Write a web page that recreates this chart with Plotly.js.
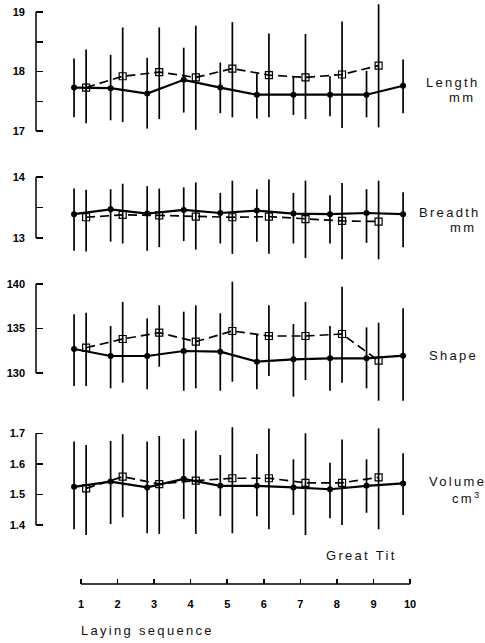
<!DOCTYPE html>
<html><head><meta charset="utf-8">
<script src="https://cdn.plot.ly/plotly-3.0.1.min.js"></script>
<style>html,body{margin:0;padding:0;background:#fff}#chart{width:485px;height:643px}</style>
</head><body><div id="chart"></div>
<script>
const seq = [1,2,3,4,5,6,7,8,9,10];
const seqD = [1,2,3,4,5,6,7,8,9];

const lengthS   = [17.73,17.72,17.63,17.86,17.73,17.61,17.61,17.61,17.61,17.76];
const lengthSHi = [18.22,18.28,18.23,18.40,18.15,17.96,17.92,17.92,18.01,18.20];
const lengthSLo = [17.23,17.18,17.04,17.31,17.30,17.21,17.27,17.25,17.23,17.30];
const lengthD   = [17.73,17.92,17.99,17.90,18.05,17.94,17.90,17.95,18.10];
const lengthDHi = [18.37,18.74,18.74,18.77,18.83,18.64,18.63,18.84,19.13];
const lengthDLo = [17.13,17.15,17.20,17.02,17.23,17.23,17.20,17.05,17.06];

const breadthS   = [13.39,13.47,13.40,13.46,13.41,13.45,13.40,13.39,13.41,13.39];
const breadthSHi = [13.81,13.80,13.85,13.83,13.74,13.80,13.74,13.70,13.80,13.75];
const breadthSLo = [12.79,12.94,12.79,12.95,12.91,12.94,12.91,12.91,12.92,12.85];
const breadthD   = [13.34,13.38,13.37,13.35,13.34,13.35,13.31,13.28,13.27];
const breadthDHi = [13.79,13.89,13.81,13.91,13.94,13.96,13.94,13.90,13.94];
const breadthDLo = [12.78,12.91,12.85,12.81,12.74,12.74,12.67,12.65,12.65];

const shapeS   = [132.70,131.91,131.91,132.47,132.40,131.27,131.54,131.65,131.65,131.95];
const shapeSHi = [136.60,135.28,136.14,136.89,136.71,134.27,135.50,135.28,135.13,137.27];
const shapeSLo = [128.54,128.28,128.17,128.01,128.01,128.17,127.34,128.01,128.28,126.89];
const shapeD   = [132.84,133.82,134.53,133.52,134.72,134.16,134.16,134.38,131.38];
const shapeDHi = [136.78,137.99,137.60,137.60,140.26,137.60,137.99,139.70,135.65];
const shapeDLo = [128.54,128.91,130.71,128.28,129.02,129.66,129.21,128.91,126.89];

const volumeS   = [1.525,1.542,1.523,1.551,1.528,1.528,1.523,1.517,1.528,1.536];
const volumeSHi = [1.673,1.675,1.673,1.682,1.629,1.632,1.615,1.604,1.615,1.635];
const volumeSLo = [1.386,1.403,1.373,1.420,1.429,1.429,1.433,1.422,1.440,1.433];
const volumeD   = [1.520,1.558,1.534,1.545,1.553,1.553,1.538,1.538,1.556];
const volumeDHi = [1.662,1.697,1.691,1.709,1.720,1.716,1.700,1.680,1.716];
const volumeDLo = [1.367,1.425,1.371,1.371,1.373,1.386,1.367,1.400,1.386];

const labelTexts = ['Length','mm','Breadth','mm','Shape','Volume','cm<sup>3</sup>','Great Tit','Laying sequence'];
const tickSets = [
  {vals:[17,18,19], text:['17','18','19'], minor:[17.5,18.5], lo:17, hi:19},
  {vals:[13,14], text:['13','14'], minor:[13.5], lo:13, hi:14},
  {vals:[130,135,140], text:['130','135','140'], minor:[], lo:130, hi:140},
  {vals:[1.4,1.5,1.6,1.7], text:['1.4','1.5','1.6','1.7'], minor:[], lo:1.4, hi:1.7}
];

// layout geometry (pixels)
const W = 485, H = 643;
const mL = 36, mR = 65, mT = 0, mB = 59;
const plotH = H - mT - mB, plotW = W - mL - mR;
const offS = -0.19, offD = 0.14;
// text label pixel positions [left x, centre y]
const labelPos = [[424,82],[447,97],[417,212],[448,227],[427,355],[427,481],[450,498],[324,555],[79,630]];

function panel(pTop, pBot, v1, p1, v2, p2) {
  const k = (v2 - v1) / (p1 - p2);
  const vTop = v2 + (p2 - pTop) * k;
  const vBot = v1 - (pBot - p1) * k;
  return {domain:[(H - mB - pBot)/plotH, (H - mB - pTop)/plotH], range:[vBot, vTop]};
}
const panels = [
  panel(0, 152, 17, 131, 19, 12),
  panel(155, 268, 13, 238, 14, 177),
  panel(272, 405, 130, 373, 140, 284),
  panel(410, 545, 1.4, 525, 1.7, 433.3)
];

const series = [
  [lengthS,lengthSHi,lengthSLo,lengthD,lengthDHi,lengthDLo],
  [breadthS,breadthSHi,breadthSLo,breadthD,breadthDHi,breadthDLo],
  [shapeS,shapeSHi,shapeSLo,shapeD,shapeDHi,shapeDLo],
  [volumeS,volumeSHi,volumeSLo,volumeD,volumeDHi,volumeDLo]
];

const traces = [];
series.forEach((s, i) => {
  const ya = i === 0 ? 'y' : 'y' + (i + 1);
  const [m, hi, lo, md, hid, lod] = s;
  traces.push({
    x: seqD.map(v => v + offD), y: md, yaxis: ya, xaxis: 'x', type: 'scatter', mode: 'lines+markers',
    line: {color: '#000', width: 1.7, dash: '9px,5px'},
    marker: {symbol: 'square-open', size: 7, color: '#000', line: {width: 1.2, color: '#000'}},
    error_y: {type: 'data', symmetric: false, array: hid.map((v, j) => v - md[j]), arrayminus: lod.map((v, j) => md[j] - v), width: 0, thickness: 1.7, color: '#000'},
    cliponaxis: false, showlegend: false, hoverinfo: 'skip'
  });
  traces.push({
    x: seq.map(v => v + offS), y: m, yaxis: ya, xaxis: 'x', type: 'scatter', mode: 'lines+markers',
    line: {color: '#000', width: 2.2},
    marker: {symbol: 'circle', size: 6, color: '#000'},
    error_y: {type: 'data', symmetric: false, array: hi.map((v, j) => v - m[j]), arrayminus: lo.map((v, j) => m[j] - v), width: 0, thickness: 1.7, color: '#000'},
    cliponaxis: false, showlegend: false, hoverinfo: 'skip'
  });
});

const tickFont = {family: 'Liberation Sans, Arial, sans-serif', size: 11, color: '#000', weight: 700};
const labelFont = {family: 'Liberation Sans, Arial, sans-serif', size: 13, color: '#111'};

const layout = {
  width: W, height: H,
  margin: {l: mL, r: mR, t: mT, b: mB, pad: 0},
  paper_bgcolor: '#fff', plot_bgcolor: '#fff',
  showlegend: false,
  xaxis: {
    range: [1 - 45/36.56, 1 - 45/36.56 + plotW/36.56],
    anchor: 'free', position: 0,
    showgrid: false, zeroline: false, showline: false,
    tickvals: seq, ticktext: seq.map(String),
    ticks: 'inside', ticklen: 5, tickwidth: 1.5, tickcolor: '#000',
    tickfont: tickFont, ticklabelstandoff: 12
  },
  shapes: [
    {type: 'line', xref: 'x', yref: 'paper', x0: 1, x1: 10, y0: 0, y1: 0, line: {color: '#000', width: 1.5}}
  ],
  annotations: []
};

panels.forEach((p, i) => {
  const key = i === 0 ? 'yaxis' : 'yaxis' + (i + 1);
  const yref = i === 0 ? 'y' : 'y' + (i + 1);
  const t = tickSets[i];
  layout[key] = {
    domain: p.domain, range: p.range, anchor: 'x',
    showgrid: false, zeroline: false, showline: false,
    tickvals: t.vals, ticktext: t.text,
    ticks: 'inside', ticklen: 7, tickwidth: 1.5, tickcolor: '#000',
    tickfont: tickFont, ticklabelstandoff: 10
  };
  if (t.minor.length) {
    layout[key].minor = {tickvals: t.minor, ticks: 'inside', ticklen: 7, tickwidth: 1.5, tickcolor: '#000', showgrid: false};
  }
  layout.shapes.push({type: 'line', xref: 'paper', yref: yref, x0: 0, x1: 0,
    y0: t.lo, y1: t.hi, line: {color: '#000', width: 1.5}});
});

labelTexts.forEach((txt, i) => {
  const [px, py] = labelPos[i];
  layout.annotations.push({
    text: txt, xref: 'paper', yref: 'paper',
    x: (px - mL) / plotW, y: (H - mB - py) / plotH,
    xanchor: 'left', yanchor: 'middle', align: 'left', showarrow: false, font: labelFont
  });
});

Plotly.newPlot('chart', traces, layout, {staticPlot: true, displayModeBar: false}).then(gd => {
  gd.querySelectorAll('.annotation-text').forEach(el => { el.style.letterSpacing = '2.3px'; });
});
</script></body></html>
